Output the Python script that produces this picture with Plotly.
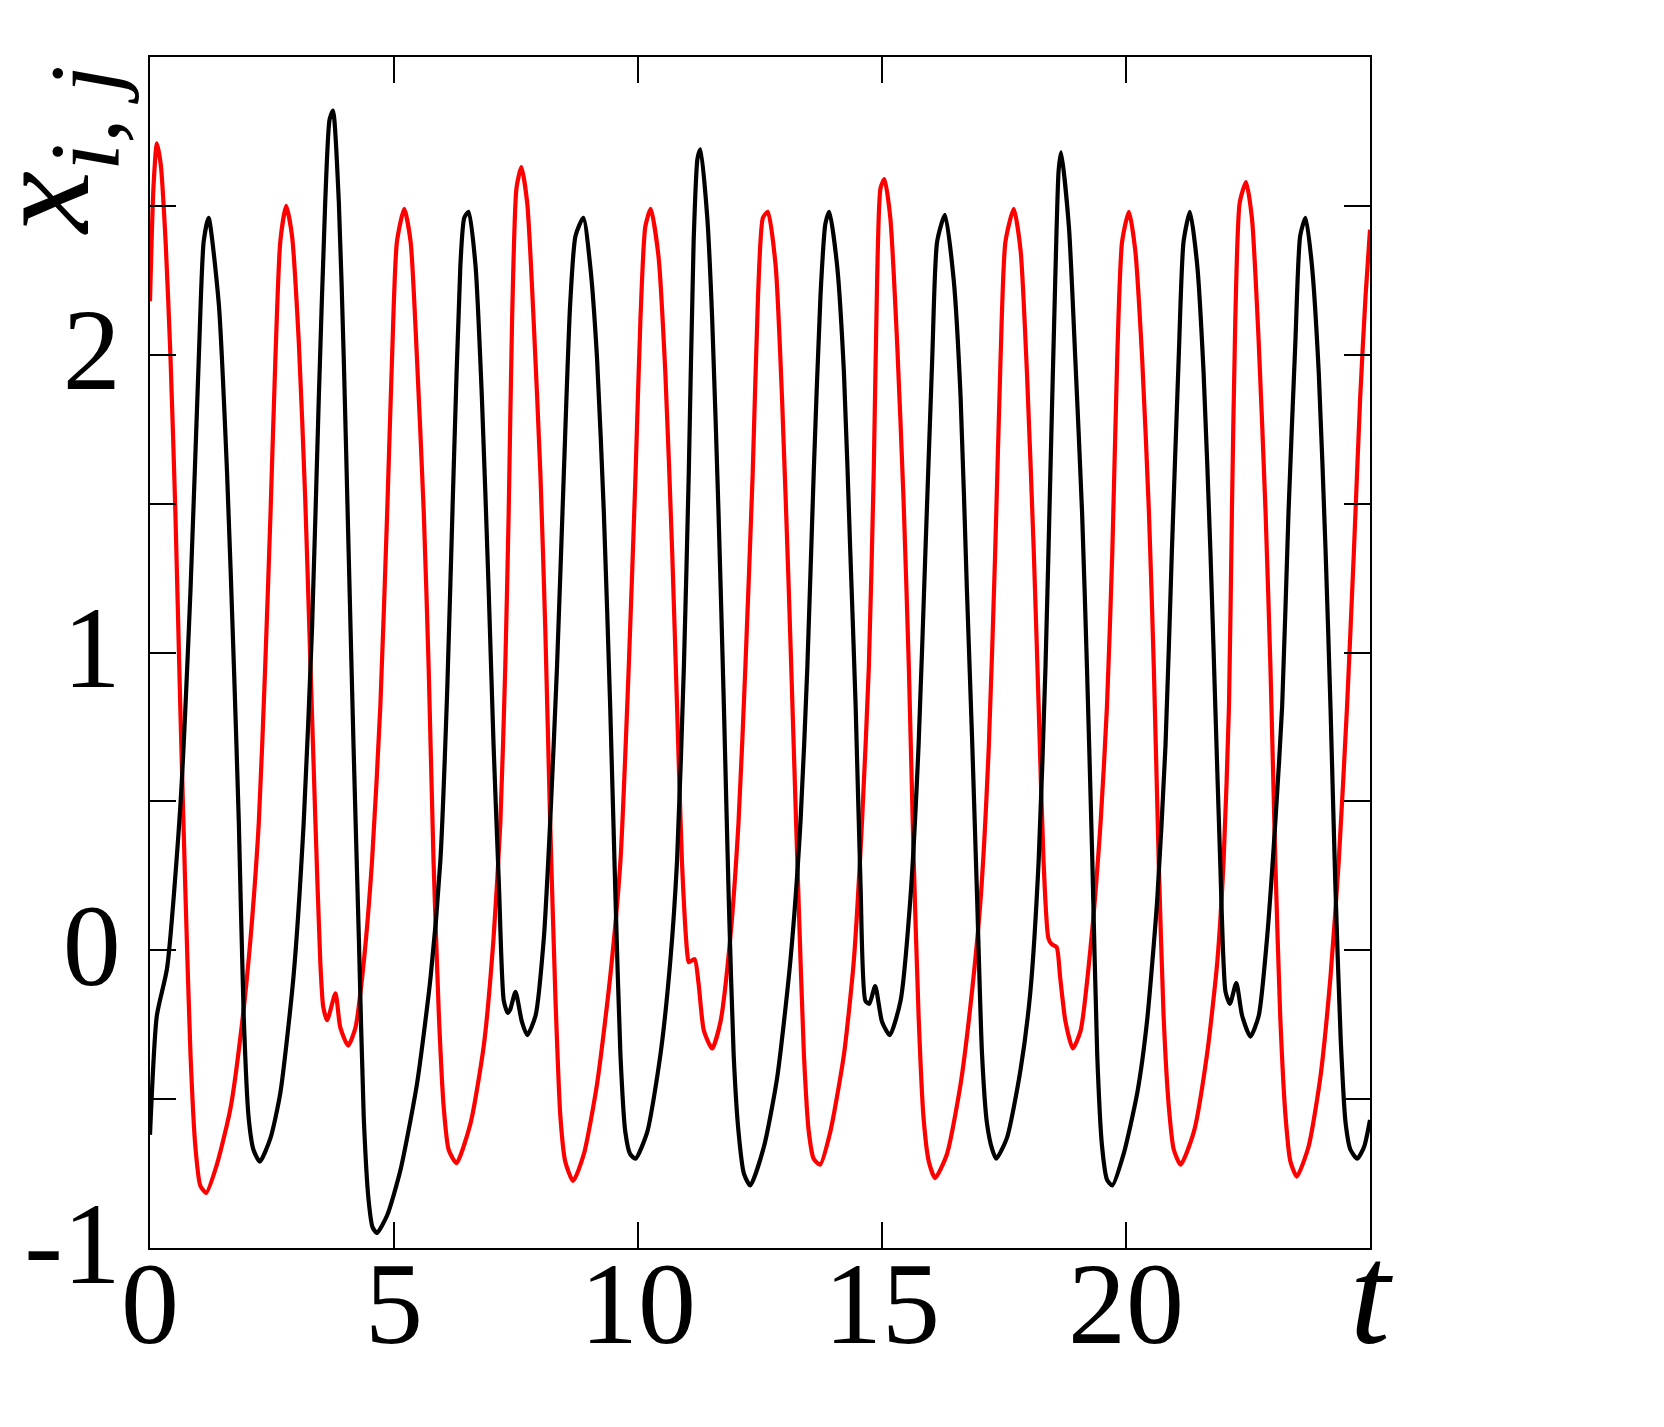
import plotly.graph_objects as go

# --- data (t, value) ---
t_black = [0.0, 0.14, 0.35, 0.62, 0.83, 1.0, 1.1, 1.2, 1.41, 1.58, 1.72, 1.82, 1.92, 2.02, 2.12, 2.25,
           2.47, 2.67, 2.94, 3.15, 3.32, 3.46, 3.59, 3.68, 3.75, 3.87, 3.97, 4.07, 4.17, 4.28, 4.38,
           4.48, 4.56, 4.65, 4.86, 5.13, 5.47, 5.75, 5.95, 6.09, 6.22, 6.36, 6.44, 6.53, 6.67, 6.80,
           6.94, 7.04, 7.15, 7.25, 7.33, 7.38, 7.49, 7.62, 7.73, 7.90, 8.07, 8.20, 8.34, 8.48, 8.61,
           8.72, 8.88, 9.02, 9.16, 9.30, 9.43, 9.54, 9.64, 9.74, 9.84, 9.95, 10.19, 10.46, 10.66,
           10.80, 10.94, 11.04, 11.14, 11.22, 11.28, 11.42, 11.52, 11.65, 11.76, 11.86, 11.96, 12.06,
           12.17, 12.30, 12.58, 12.85, 13.12, 13.33, 13.47, 13.60, 13.74, 13.84, 13.92, 14.08, 14.22,
           14.35, 14.46, 14.56, 14.66, 14.74, 14.86, 15.00, 15.16, 15.38, 15.58, 15.75, 15.89, 16.03,
           16.13, 16.29, 16.47, 16.61, 16.74, 16.85, 16.95, 17.05, 17.15, 17.26, 17.34, 17.56, 17.84,
           18.04, 18.21, 18.35, 18.45, 18.55, 18.62, 18.67, 18.83, 18.96, 19.10, 19.20, 19.31, 19.41,
           19.51, 19.61, 19.72, 19.95, 20.23, 20.43, 20.64, 20.81, 20.94, 21.08, 21.18, 21.31, 21.46,
           21.59, 21.73, 21.83, 21.93, 22.04, 22.13, 22.26, 22.38, 22.55, 22.72, 22.89, 23.06, 23.20,
           23.33, 23.47, 23.57, 23.68, 23.81, 23.95, 24.09, 24.19, 24.29, 24.40, 24.50, 24.60, 24.74,
           24.88, 25.0]
x_black = [-0.62, -0.22, -0.06, 0.48, 1.21, 1.99, 2.38, 2.46, 2.17, 1.6, 0.95, 0.43, -0.22, -0.56, -0.67, -0.71,
           -0.63, -0.48, -0.09, 0.43, 1.08, 1.86, 2.51, 2.79, 2.82, 2.51, 1.99, 1.34, 0.69, 0.04, -0.56,
           -0.84, -0.93, -0.95, -0.89, -0.74, -0.45, -0.09, 0.30, 0.87, 1.60, 2.30, 2.46, 2.48, 2.30, 1.86,
           1.21, 0.69, 0.22, -0.17, -0.21, -0.20, -0.14, -0.24, -0.285, -0.22, 0.04, 0.43, 0.95, 1.60, 2.17,
           2.40, 2.46, 2.30, 1.99, 1.47, 0.82, 0.17, -0.35, -0.61, -0.685, -0.70, -0.61, -0.35, -0.04,
           0.30, 0.95, 1.60, 2.38, 2.66, 2.69, 2.46, 2.12, 1.47, 0.82, 0.17, -0.35, -0.61,
           -0.75, -0.79, -0.66, -0.43, -0.04, 0.43, 0.95, 1.60, 2.20, 2.44, 2.48, 2.30, 1.94,
           1.34, 0.82, 0.22, -0.17, -0.18, -0.12, -0.24, -0.285, -0.17, 0.17, 0.69, 1.34, 1.99,
           2.38, 2.47, 2.25, 1.86, 1.21, 0.69, 0.17, -0.35, -0.58, -0.67, -0.70, -0.63, -0.40,
           -0.14, 0.30, 0.95, 1.60, 2.25, 2.62, 2.68, 2.43, 1.99, 1.47, 0.95, 0.30, -0.35,
           -0.66, -0.77, -0.79, -0.685, -0.48, -0.24, 0.17, 0.69, 1.34, 1.99, 2.38, 2.48, 2.30,
           1.94, 1.34, 0.82, 0.30, -0.14, -0.18, -0.11, -0.22, -0.29, -0.22, 0.04, 0.43, 0.82,
           1.47, 2.04, 2.40, 2.46, 2.30, 1.94, 1.34, 0.82, 0.22, -0.30, -0.58, -0.67, -0.70,
           -0.66, -0.57]

t_red = [0.0, 0.07, 0.14, 0.22, 0.32, 0.42, 0.52, 0.62, 0.73, 0.83, 0.93, 1.03, 1.15, 1.37, 1.65, 1.89,
         2.06, 2.23, 2.36, 2.47, 2.57, 2.67, 2.79, 2.91, 3.05, 3.18, 3.28, 3.39, 3.49, 3.55, 3.63,
         3.80, 3.90, 4.06, 4.21, 4.38, 4.55, 4.72, 4.86, 4.96, 5.06, 5.21, 5.34, 5.47, 5.61, 5.71,
         5.81, 5.92, 6.02, 6.12, 6.28, 6.57, 6.84, 7.04, 7.18, 7.28, 7.35, 7.42, 7.51, 7.61, 7.73,
         7.86, 8.0, 8.10, 8.20, 8.31, 8.41, 8.51, 8.67, 8.89, 9.16, 9.43, 9.64, 9.81, 9.95, 10.05,
         10.15, 10.26, 10.42, 10.56, 10.70, 10.80, 10.90, 11.01, 11.04, 11.16, 11.24, 11.35, 11.52,
         11.69, 11.89, 12.06, 12.20, 12.35, 12.46, 12.56, 12.66, 12.82, 12.95, 13.09, 13.19, 13.29,
         13.40, 13.50, 13.60, 13.73, 13.94, 14.22, 14.42, 14.59, 14.73, 14.83, 14.90, 14.97, 15.05,
         15.17, 15.31, 15.44, 15.55, 15.65, 15.75, 15.85, 15.96, 16.09, 16.33, 16.61, 16.81, 17.02,
         17.19, 17.32, 17.43, 17.53, 17.70, 17.84, 17.97, 18.11, 18.21, 18.31, 18.41, 18.48, 18.58,
         18.65, 18.76, 18.91, 19.07, 19.28, 19.48, 19.61, 19.72, 19.82, 19.92, 20.06, 20.19, 20.33,
         20.47, 20.57, 20.67, 20.77, 20.88, 20.98, 21.12, 21.39, 21.66, 21.87, 22.00, 22.11, 22.17,
         22.24, 22.33, 22.46, 22.58, 22.72, 22.86, 22.96, 23.06, 23.16, 23.27, 23.37, 23.50, 23.74,
         23.98, 24.19, 24.36, 24.53, 24.67, 24.80, 24.91, 25.0]
x_red = [2.18, 2.56, 2.71, 2.64, 2.38, 1.99, 1.47, 0.82, 0.17, -0.35, -0.66, -0.79, -0.815, -0.72, -0.53, -0.24,
         0.04, 0.43, 0.95, 1.47, 1.99, 2.38, 2.50, 2.40, 2.04, 1.52, 1.0, 0.43, -0.04, -0.19, -0.235,
         -0.145, -0.26, -0.32, -0.26, -0.04, 0.30, 0.82, 1.47, 1.99, 2.38, 2.49, 2.38, 1.99, 1.47, 0.95,
         0.30, -0.22, -0.53, -0.67, -0.715, -0.58, -0.32, 0.04, 0.43, 0.95, 1.47, 2.12, 2.56, 2.63, 2.51,
         2.12, 1.60, 1.08, 0.43, -0.17, -0.56, -0.71, -0.775, -0.685, -0.45, -0.09, 0.30, 0.95, 1.60, 2.12,
         2.43, 2.49, 2.33, 1.94, 1.34, 0.82, 0.30, -0.01, -0.04, -0.03, -0.11, -0.27, -0.33,
         -0.24, 0.04, 0.43, 0.95, 1.60, 2.20, 2.46, 2.48, 2.30, 1.86, 1.21, 0.69, 0.17,
         -0.35, -0.61, -0.70, -0.72, -0.61, -0.35, -0.04, 0.43, 0.95, 1.60, 2.25, 2.56, 2.59,
         2.46, 2.04, 1.52, 0.95, 0.30, -0.22, -0.56, -0.71, -0.765, -0.685, -0.45, -0.19, 0.17,
         0.69, 1.34, 1.99, 2.38, 2.49, 2.35, 1.94, 1.34, 0.82, 0.30, 0.04, 0.02, 0.01,
         -0.09, -0.24, -0.33, -0.27, 0.02, 0.43, 0.82, 1.34, 1.99, 2.38, 2.48, 2.35, 1.99,
         1.47, 0.95, 0.30, -0.22, -0.53, -0.67, -0.72, -0.61, -0.35, -0.04, 0.30, 0.82, 1.47,
         2.12, 2.51, 2.58, 2.46, 2.04, 1.47, 0.95, 0.30, -0.22, -0.56, -0.71, -0.76, -0.66,
         -0.43, -0.09, 0.30, 0.82, 1.34, 1.86, 2.20, 2.42]

x_tickvals = [0, 5, 10, 15, 20, 25]
x_ticktext = ["0", "5", "10", "15", "20", "<span style='font-size:145px'><i>t</i></span>"]
y_tickvals = [-1, -0.5, 0, 0.5, 1, 1.5, 2, 2.5, 3]
y_ticktext = ["-1", "", "0", "", "1", "", "2", "", ""]

FONT = "Liberation Serif, DejaVu Serif, serif"

fig = go.Figure()
fig.add_trace(go.Scatter(x=t_red, y=x_red, mode="lines",
                         line=dict(color="#ff0000", width=4.2, shape="spline", smoothing=0.6)))
fig.add_trace(go.Scatter(x=t_black, y=x_black, mode="lines",
                         line=dict(color="#000000", width=4.2, shape="spline", smoothing=0.6)))

axis_common = dict(showline=True, linecolor="black", linewidth=2, mirror="ticks",
                   ticks="inside", ticklen=26, tickwidth=1.5, tickcolor="black",
                   showgrid=False, zeroline=False, automargin=False,
                   tickfont=dict(family=FONT, size=116, color="black"))

# page body has an 8px margin, so the figure is 8px smaller and margins shifted
fig.update_layout(
    width=1656, height=1419,
    margin=dict(l=142, r=294, t=49, b=179),
    paper_bgcolor="white", plot_bgcolor="white",
    showlegend=False,
    xaxis=dict(range=[0, 25], tickvals=x_tickvals, ticktext=x_ticktext,
               ticklabelstandoff=-46, **axis_common),
    yaxis=dict(range=[-1, 3], tickvals=y_tickvals, ticktext=y_ticktext,
               ticklabelstandoff=4, ticklabelshift=-6, **axis_common),
    annotations=[dict(text="<i>x</i><sub><span style='font-size:100px'><i>i, j</i></span></sub>",
                      textangle=-90,
                      xref="paper", yref="paper", x=-0.081, y=0.922,
                      xanchor="center", yanchor="middle", showarrow=False,
                      font=dict(family=FONT, size=140, color="black"))],
)

fig.write_html("out.html")
